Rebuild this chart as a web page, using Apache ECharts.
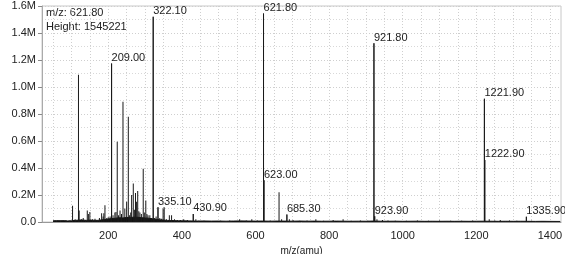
<!DOCTYPE html>
<html>
<head>
<meta charset="utf-8">
<script src="https://cdn.jsdelivr.net/npm/echarts@6/dist/echarts.min.js"></script>
<style>
html,body{margin:0;padding:0;background:#fff;}
#c{width:565px;height:254px;}
</style>
</head>
<body>
<div id="c"></div>
<script>
// Peak sticks (m/z, abundance)
var peakMz = [60,70,85,95,103,110,119.1,121,127,132,138,143,146,150,157,164,170,176,182,186,188,191,196,200,205,
  209.0,213,218,221,224.4,228,232,236,240,245,250,254.5,258,261,263.5,268,271,274,277,280,283,286,290,295,298,302,305,308,313,317,
  322.1,326,330,335.1,340,345,349,352,358,366,372,380,388,396,405,415,422,430.9,438,446,460,480,505,530,557,575,590,605,
  621.8,623.0,640,664,671,685.3,692,702,720,740,764,785,811,838,860,885,905,
  921.8,923.9,930,945,960,980,1010,1040,1070,1100,1130,1160,1190,
  1221.9,1222.9,1235,1250,1265,1290,1310,1335.9,1350,1380,1400];
var peakAbund = [10000,11000,12000,10000,120000,20000,1090000,85000,20000,30000,15000,85000,60000,75000,20000,25000,15000,30000,65000,40000,65000,125000,30000,35000,40000,
  1175000,50000,70000,75000,595000,50000,85000,60000,890000,100000,150000,780000,50000,70000,200000,285000,90000,215000,150000,230000,80000,70000,60000,395000,70000,160000,60000,50000,50000,30000,
  1520000,30000,40000,110000,30000,25000,100000,110000,20000,50000,50000,20000,15000,15000,20000,15000,10000,60000,20000,10000,10000,8000,10000,12000,20000,12000,20000,12000,
  1545221,310000,12000,220000,20000,55000,20000,15000,10000,12000,20000,10000,15000,20000,10000,12000,10000,
  1324000,42000,20000,15000,12000,10000,10000,12000,10000,12000,10000,10000,12000,
  913000,460000,20000,12000,15000,12000,10000,38000,10000,8000,6000];
// Peaks that carry an m/z label
var labeledMz = [209.0,322.1,335.1,430.9,621.8,623.0,685.3,921.8,923.9,1221.9,1222.9,1335.9];

// Baseline noise
var noiseMz = [50,60,70,80,90,100,110,120,130,140,150,160,170,180,190,200,210,220,230,240,250,260,270,280,290,300,310,320,330,340,350,360,370,380,390,400,
  420,440,460,480,500,520,540,560,580,600,620,640,660,680,700,720,740,760,780,800,820,840,860,880,900,920,940,960,980,1000,
  1020,1040,1060,1080,1100,1120,1140,1160,1180,1200,1220,1240,1260,1280,1300,1320,1340,1360,1380,1400,1428];
var noiseVal = [9000,10000,9500,10000,8000,9000,12000,14000,15000,12000,14000,13000,12000,15000,18000,22000,26000,28000,32000,30000,34000,33000,36000,35000,32000,30000,28000,24000,20000,16000,14000,12000,11000,10000,9000,9000,
  8000,7000,7500,6500,7000,6000,7000,8000,7000,6500,7000,6000,7000,6500,6000,7000,6000,6500,5500,6000,6500,6000,5500,6000,5500,7000,6000,5500,6000,5000,
  5500,6000,5000,5500,5000,5500,5000,5500,5000,5500,6000,5500,5000,5500,5000,5500,5000,4500,5000,4500,4000];

var xLabelValues = [200,400,600,800,1000,1200,1400];
var xGridValues = [50,100,150,200,250,300,350,400,450,500,550,600,650,700,750,800,850,900,950,1000,1050,1100,1150,1200,1250,1300,1350,1400];

var stickData = peakMz.map(function(m, i){ return [m, peakAbund[i]]; });
var labelData = labeledMz.map(function(m){ return [m, peakAbund[peakMz.indexOf(m)]]; });
var noiseData = noiseMz.map(function(m, i){ return [m, noiseVal[i]]; });

var FONT = 'Liberation Sans';
var chart = echarts.init(document.getElementById('c'), null, {renderer:'canvas'});
chart.setOption({
  animation:false,
  backgroundColor:'#fff',
  grid:{left:42, right:4, top:6, bottom:32, containLabel:false, outerBoundsMode:'none',
        show:true, borderColor:'#c8c8c8', borderWidth:1},
  xAxis:{
    type:'value', min:20, max:1430,
    name:'m/z(amu)', nameLocation:'middle', nameGap:24,
    nameTextStyle:{fontFamily:FONT, fontSize:10, color:'#222'},
    axisLine:{show:true, lineStyle:{color:'#999'}},
    axisTick:{show:false, customValues:xGridValues},
    axisLabel:{customValues:xLabelValues, fontFamily:FONT, fontSize:11, color:'#222', margin:8,
      formatter:function(v){ return String(v); }},
    splitLine:{show:true, lineStyle:{color:'#cfcfcf', type:[1,2], width:1}}
  },
  yAxis:{
    type:'value', min:0, max:1600000, interval:200000,
    name:'Abundance', nameLocation:'middle', nameGap:30,
    nameTextStyle:{fontFamily:FONT, fontSize:11, color:'#222'},
    axisLine:{show:true, lineStyle:{color:'#aaa'}},
    axisTick:{show:true, length:4, lineStyle:{color:'#888'}},
    axisLabel:{fontFamily:FONT, fontSize:11, color:'#222', margin:6,
      formatter:function(v){ return v===0 ? '0.0' : (v/1e6).toFixed(1)+'M'; }},
    splitLine:{show:true, lineStyle:{color:'#cfcfcf', type:[1,2], width:1}},
    minorTick:{show:false, splitNumber:2},
    minorSplitLine:{show:true, lineStyle:{color:'#d8d8d8', type:[1,2], width:1}}
  },
  graphic:[
    {type:'text', left:46, top:7, style:{text:'m/z: 621.80', font:'11px "Liberation Sans"', fill:'#222'}},
    {type:'text', left:46, top:21, style:{text:'Height: 1545221', font:'11px "Liberation Sans"', fill:'#222'}}
  ],
  series:[
    {type:'line', data:noiseData, symbol:'none', lineStyle:{width:1, color:'#111'},
     areaStyle:{color:'#111', opacity:1}, z:2},
    {type:'bar', data:stickData, barWidth:1, itemStyle:{color:'#1a1a1a'}, barGap:'-100%', z:3},
    {type:'bar', data:labelData, barWidth:1, itemStyle:{color:'#1a1a1a'}, barGap:'-100%', z:4,
     label:{show:true, position:'top', align:'left', distance:0, fontFamily:FONT, fontSize:11, color:'#222',
       formatter:function(p){ return p.value[0].toFixed(2); }}}
  ]
});
</script>
</body>
</html>
